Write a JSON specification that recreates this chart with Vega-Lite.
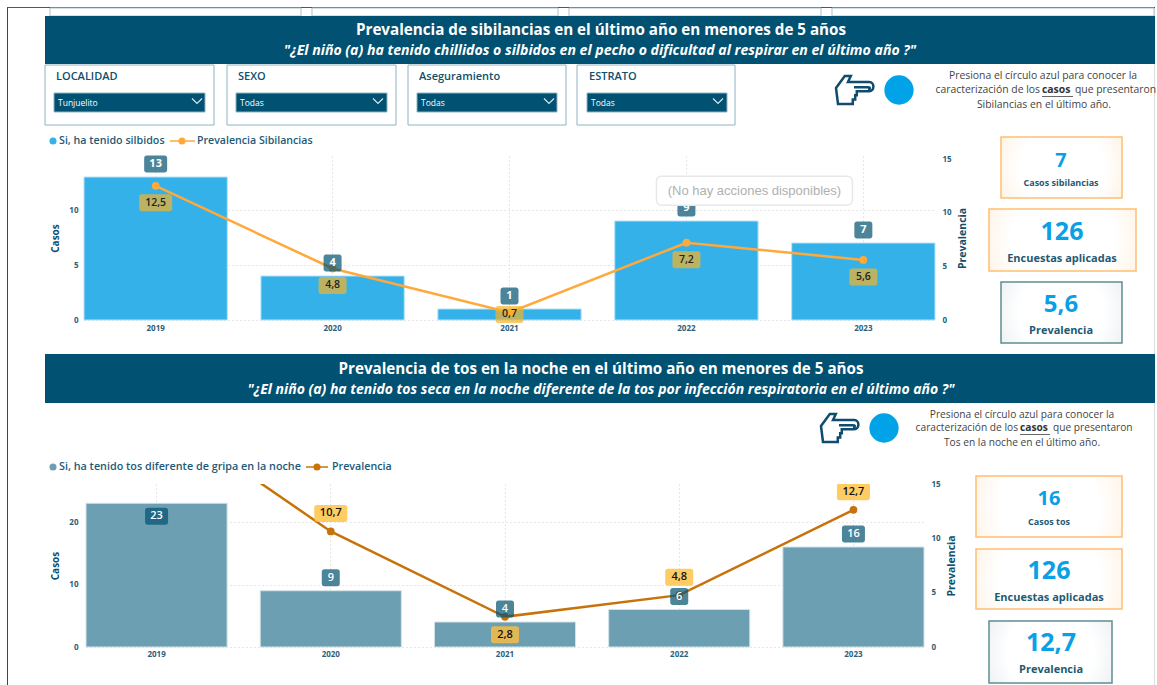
{"$schema":"https://vega.github.io/schema/vega-lite/v6.json","padding":0,"background":"#ffffff","bounds":"flush","align":"each","spacing":0,"columns":2,
"config":{"font":"Open Sans","view":{"stroke":null},"text":{"baseline":"middle"}},
"datasets":{"sib":[{"anio":"2019","casos":13,"prev":12.5,"et":"12,5"},{"anio":"2020","casos":4,"prev":4.8,"et":"4,8"},{"anio":"2021","casos":1,"prev":0.7,"et":"0,7"},{"anio":"2022","casos":9,"prev":7.2,"et":"7,2"},{"anio":"2023","casos":7,"prev":5.6,"et":"5,6"}],
"tos":[{"anio":"2019","casos":23,"prev":21.8,"et":"21,8"},{"anio":"2020","casos":9,"prev":10.7,"et":"10,7"},{"anio":"2021","casos":4,"prev":2.8,"et":"2,8"},{"anio":"2022","casos":6,"prev":4.8,"et":"4,8"},{"anio":"2023","casos":16,"prev":12.7,"et":"12,7"}]},
"concat":[
{"width":84,"height":155,"data":{"values":[{}]},"layer":[
{"mark":{"type":"rect","fill":"#444444"},"encoding":{"x":{"datum":7,"axis":null,"scale":{"domain":[0,84],"range":[0,84],"nice":false}},"x2":{"datum":8},"y":{"datum":6,"axis":null,"scale":{"domain":[0,155],"range":[0,155],"nice":false}},"y2":{"datum":685}}},
{"mark":{"type":"rect","fill":"#555555"},"encoding":{"x":{"datum":7,"axis":null},"x2":{"datum":1155},"y":{"datum":6,"axis":null},"y2":{"datum":7}}},
{"mark":{"type":"rect","fill":"#dddddd"},"encoding":{"x":{"datum":1154,"axis":null},"x2":{"datum":1155},"y":{"datum":7,"axis":null},"y2":{"datum":685}}},
{"mark":{"type":"rect","fill":"#ffffff","stroke":"#a9c3cf"},"encoding":{"x":{"datum":50,"axis":null},"x2":{"datum":301},"y":{"datum":7,"axis":null},"y2":{"datum":15}}},
{"mark":{"type":"rect","fill":"#ffffff","stroke":"#a9c3cf"},"encoding":{"x":{"datum":312,"axis":null},"x2":{"datum":558},"y":{"datum":7,"axis":null},"y2":{"datum":15}}},
{"mark":{"type":"rect","fill":"#ffffff","stroke":"#a9c3cf"},"encoding":{"x":{"datum":569,"axis":null},"x2":{"datum":821},"y":{"datum":7,"axis":null},"y2":{"datum":15}}},
{"mark":{"type":"rect","fill":"#ffffff","stroke":"#a9c3cf"},"encoding":{"x":{"datum":832,"axis":null},"x2":{"datum":1154},"y":{"datum":7,"axis":null},"y2":{"datum":15}}},
{"mark":{"type":"rect","fill":"#015172"},"encoding":{"x":{"datum":45,"axis":null},"x2":{"datum":1155},"y":{"datum":15,"axis":null},"y2":{"datum":63}}},
{"mark":{"type":"text","text":"Prevalencia de sibilancias en el último año en menores de 5 años","fill":"#ffffff","fontSize":15.2,"fontWeight":700},"encoding":{"x":{"datum":601,"axis":null},"y":{"datum":29,"axis":null}}},
{"mark":{"type":"text","text":"\"¿El niño (a) ha tenido chillidos o silbidos en el pecho o dificultad al respirar en el último año ?\"","fill":"#ffffff","fontSize":14.1,"fontWeight":700,"fontStyle":"italic"},"encoding":{"x":{"datum":600,"axis":null},"y":{"datum":50,"axis":null}}},
{"mark":{"type":"rect","fill":"#ffffff","stroke":"#8fb3c2"},"encoding":{"x":{"datum":45,"axis":null},"x2":{"datum":214},"y":{"datum":64,"axis":null},"y2":{"datum":124}}},
{"mark":{"type":"rect","fill":"#ffffff","stroke":"#8fb3c2"},"encoding":{"x":{"datum":227,"axis":null},"x2":{"datum":396},"y":{"datum":64,"axis":null},"y2":{"datum":124}}},
{"mark":{"type":"rect","fill":"#ffffff","stroke":"#8fb3c2"},"encoding":{"x":{"datum":408,"axis":null},"x2":{"datum":566},"y":{"datum":64,"axis":null},"y2":{"datum":124}}},
{"mark":{"type":"rect","fill":"#ffffff","stroke":"#8fb3c2"},"encoding":{"x":{"datum":577,"axis":null},"x2":{"datum":735},"y":{"datum":64,"axis":null},"y2":{"datum":124}}},
{"mark":{"type":"rect","fill":"#015172","stroke":"#8fb3c2"},"encoding":{"x":{"datum":54,"axis":null},"x2":{"datum":205},"y":{"datum":92,"axis":null},"y2":{"datum":111}}},
{"mark":{"type":"rect","fill":"#015172","stroke":"#8fb3c2"},"encoding":{"x":{"datum":236,"axis":null},"x2":{"datum":387},"y":{"datum":92,"axis":null},"y2":{"datum":111}}},
{"mark":{"type":"rect","fill":"#015172","stroke":"#8fb3c2"},"encoding":{"x":{"datum":417,"axis":null},"x2":{"datum":557},"y":{"datum":92,"axis":null},"y2":{"datum":111}}},
{"mark":{"type":"rect","fill":"#015172","stroke":"#8fb3c2"},"encoding":{"x":{"datum":587,"axis":null},"x2":{"datum":727},"y":{"datum":92,"axis":null},"y2":{"datum":111}}},
{"mark":{"type":"text","text":"LOCALIDAD","align":"left","fill":"#0f4f6d","fontSize":11,"fontWeight":600},"encoding":{"x":{"datum":56,"axis":null},"y":{"datum":76,"axis":null}}},
{"mark":{"type":"text","text":"SEXO","align":"left","fill":"#0f4f6d","fontSize":11,"fontWeight":600},"encoding":{"x":{"datum":238,"axis":null},"y":{"datum":76,"axis":null}}},
{"mark":{"type":"text","text":"Aseguramiento","align":"left","fill":"#0f4f6d","fontSize":11,"fontWeight":600},"encoding":{"x":{"datum":419,"axis":null},"y":{"datum":76,"axis":null}}},
{"mark":{"type":"text","text":"ESTRATO","align":"left","fill":"#0f4f6d","fontSize":11,"fontWeight":600},"encoding":{"x":{"datum":589,"axis":null},"y":{"datum":76,"axis":null}}},
{"mark":{"type":"text","text":"Tunjuelito","align":"left","fill":"#ffffff","fontSize":8.5},"encoding":{"x":{"datum":58,"axis":null},"y":{"datum":102,"axis":null}}},
{"mark":{"type":"text","text":"Todas","align":"left","fill":"#ffffff","fontSize":8.5},"encoding":{"x":{"datum":240,"axis":null},"y":{"datum":102,"axis":null}}},
{"mark":{"type":"text","text":"Todas","align":"left","fill":"#ffffff","fontSize":8.5},"encoding":{"x":{"datum":421,"axis":null},"y":{"datum":102,"axis":null}}},
{"mark":{"type":"text","text":"Todas","align":"left","fill":"#ffffff","fontSize":8.5},"encoding":{"x":{"datum":591,"axis":null},"y":{"datum":102,"axis":null}}},
{"mark":{"type":"point","shape":"M-.5,-.25L0,.25L.5,-.25","size":400,"stroke":"#d8e6ec","strokeWidth":1.2,"opacity":1},"encoding":{"x":{"datum":197,"axis":null},"y":{"datum":100,"axis":null}}},
{"mark":{"type":"point","shape":"M-.5,-.25L0,.25L.5,-.25","size":400,"stroke":"#d8e6ec","strokeWidth":1.2,"opacity":1},"encoding":{"x":{"datum":378,"axis":null},"y":{"datum":100,"axis":null}}},
{"mark":{"type":"point","shape":"M-.5,-.25L0,.25L.5,-.25","size":400,"stroke":"#d8e6ec","strokeWidth":1.2,"opacity":1},"encoding":{"x":{"datum":549,"axis":null},"y":{"datum":100,"axis":null}}},
{"mark":{"type":"point","shape":"M-.5,-.25L0,.25L.5,-.25","size":400,"stroke":"#d8e6ec","strokeWidth":1.2,"opacity":1},"encoding":{"x":{"datum":718,"axis":null},"y":{"datum":100,"axis":null}}},
{"mark":{"type":"point","shape":"M-.5,-.05L-.28,-.35L-.13,-.35L-.2,-.2L.33,-.2C.47,-.2 .47,.03 .33,.03L.02,.03L.02,.13L-.02,.13L-.02,.24L-.08,.24L-.08,.35L-.45,.35ZM-.05,-.07L.3,-.07C.36,-.07 .36,-.02 .3,-.02","size":6400,"stroke":"#0f4c6e","strokeWidth":2.5,"opacity":1},"encoding":{"x":{"datum":856,"axis":null},"y":{"datum":89,"axis":null}}},
{"mark":{"type":"point","shape":"circle","filled":true,"size":860,"fill":"#00a3e8","opacity":1},"encoding":{"x":{"datum":899,"axis":null},"y":{"datum":89,"axis":null}}},
{"mark":{"type":"text","text":"Presiona el círculo azul para conocer la","fill":"#444444","fontSize":10.4},"encoding":{"x":{"datum":1043,"axis":null},"y":{"datum":75,"axis":null}}},
{"mark":{"type":"text","text":"caracterización de los","align":"right","fill":"#444444","fontSize":10.4},"encoding":{"x":{"datum":1040,"axis":null},"y":{"datum":89,"axis":null}}},
{"mark":{"type":"text","text":"casos","align":"left","fill":"#333333","fontSize":10.4,"fontWeight":700},"encoding":{"x":{"datum":1042,"axis":null},"y":{"datum":89,"axis":null}}},
{"mark":{"type":"rect","fill":"#444444"},"encoding":{"x":{"datum":1042,"axis":null},"x2":{"datum":1073},"y":{"datum":95,"axis":null},"y2":{"datum":95.8}}},
{"mark":{"type":"text","text":"que presentaron","align":"left","fill":"#444444","fontSize":10.4},"encoding":{"x":{"datum":1075,"axis":null},"y":{"datum":89,"axis":null}}},
{"mark":{"type":"text","text":"Sibilancias en el último año.","fill":"#444444","fontSize":10.4},"encoding":{"x":{"datum":1044,"axis":null},"y":{"datum":104,"axis":null}}},
{"mark":{"type":"point","shape":"circle","filled":true,"size":50,"fill":"#35b1ea","opacity":1},"encoding":{"x":{"datum":53,"axis":null},"y":{"datum":140,"axis":null}}},
{"mark":{"type":"text","text":"Si, ha tenido silbidos","align":"left","fill":"#1d5a78","fontSize":10.7,"fontWeight":600},"encoding":{"x":{"datum":59,"axis":null},"y":{"datum":140,"axis":null}}},
{"mark":{"type":"rule","stroke":"#ffa93b","strokeWidth":1.5},"encoding":{"x":{"datum":170,"axis":null},"x2":{"datum":195},"y":{"datum":140,"axis":null}}},
{"mark":{"type":"point","shape":"circle","filled":true,"size":50,"fill":"#ffa93b","opacity":1},"encoding":{"x":{"datum":182,"axis":null},"y":{"datum":140,"axis":null}}},
{"mark":{"type":"text","text":"Prevalencia Sibilancias","align":"left","fill":"#1d5a78","fontSize":10.6,"fontWeight":600},"encoding":{"x":{"datum":197,"axis":null},"y":{"datum":140,"axis":null}}},
{"mark":{"type":"rect","stroke":"#ffbe73","strokeWidth":1.5,"fill":{"gradient":"radial","x1":0.5,"y1":0.5,"x2":0.5,"y2":0.5,"r1":0.35,"r2":0.75,"stops":[{"offset":0,"color":"#ffffff"},{"offset":1,"color":"#ffe9cf"}]}},"encoding":{"x":{"datum":1001,"axis":null},"x2":{"datum":1122},"y":{"datum":136,"axis":null},"y2":{"datum":197}}},
{"mark":{"type":"text","text":"7","fill":"#0aa0e6","fontSize":20,"fontWeight":700},"encoding":{"x":{"datum":1061,"axis":null},"y":{"datum":160,"axis":null}}},
{"mark":{"type":"text","text":"Casos sibilancias","fill":"#1f5a73","fontSize":9,"fontWeight":700},"encoding":{"x":{"datum":1061,"axis":null},"y":{"datum":182,"axis":null}}},
{"mark":{"type":"rect","stroke":"#ffbe73","strokeWidth":1.5,"fill":{"gradient":"radial","x1":0.5,"y1":0.5,"x2":0.5,"y2":0.5,"r1":0.35,"r2":0.75,"stops":[{"offset":0,"color":"#ffffff"},{"offset":1,"color":"#ffe9cf"}]}},"encoding":{"x":{"datum":989,"axis":null},"x2":{"datum":1136,"axis":null},"y":{"datum":208,"axis":null},"y2":{"datum":270}}},
{"mark":{"type":"text","text":"126","fill":"#0aa0e6","fontSize":25,"fontWeight":700},"encoding":{"x":{"datum":1062,"axis":null},"y":{"datum":231,"axis":null}}},
{"mark":{"type":"text","text":"Encuestas aplicadas","fill":"#1f5a73","fontSize":11,"fontWeight":700},"encoding":{"x":{"datum":1062,"axis":null},"y":{"datum":258,"axis":null}}},
{"mark":{"type":"rect","stroke":"#5f8f90","strokeWidth":1.5,"fill":{"gradient":"radial","x1":0.5,"y1":0.5,"x2":0.5,"y2":0.5,"r1":0.35,"r2":0.75,"stops":[{"offset":0,"color":"#ffffff"},{"offset":1,"color":"#dfe5ea"}]}},"encoding":{"x":{"datum":1001,"axis":null},"x2":{"datum":1122},"y":{"datum":281,"axis":null},"y2":{"datum":342}}},
{"mark":{"type":"text","text":"5,6","fill":"#0aa0e6","fontSize":24,"fontWeight":700},"encoding":{"x":{"datum":1061,"axis":null},"y":{"datum":304,"axis":null}}},
{"mark":{"type":"text","text":"Prevalencia","fill":"#1f5a73","fontSize":11,"fontWeight":700},"encoding":{"x":{"datum":1061,"axis":null},"y":{"datum":330,"axis":null}}}
]},
{"width":1,"height":1,"data":{"values":[{}]},"mark":{"type":"text","text":"","fontSize":1},"encoding":{}},
{"width":1,"height":1,"data":{"values":[{}]},"mark":{"type":"text","text":"","fontSize":1},"encoding":{}},
{"width":851,"height":164,"data":{"name":"sib"},"resolve":{"scale":{"y":"independent"},"axis":{"x":"independent"}},"layer":[
{"mark":{"type":"bar","fill":"#35b1ea","stroke":"#b5e2f7","strokeWidth":1},"encoding":{"x":{"field":"anio","type":"nominal","title":null,"scale":{"type":"band","paddingInner":0.19,"paddingOuter":0},"axis":{"labelAngle":0,"labelFontSize":8,"labelFontWeight":700,"labelColor":"#2b6079","labelPadding":4,"ticks":false,"domain":false,"grid":true,"gridDash":[1,3],"gridColor":"#cfcfcf"}},"y":{"field":"casos","type":"quantitative","title":"Casos","scale":{"domain":[0,14.91],"nice":false},"axis":{"values":[0,5,10],"labelFontSize":8,"labelFontWeight":700,"labelColor":"#2b6079","labelPadding":6,"ticks":false,"domain":false,"grid":true,"gridDash":[1,3],"gridColor":"#cfcfcf","titleFontSize":10,"titleFontWeight":700,"titleColor":"#0f4f6d","titlePadding":8}}}},
{"mark":{"type":"line","stroke":"#ffa93b","strokeWidth":2.5},"encoding":{"x":{"field":"anio","type":"nominal","axis":null},"y":{"field":"prev","type":"quantitative","title":"Prevalencia","scale":{"domain":[0,15.28],"nice":false},"axis":{"orient":"right","values":[0,5,10,15],"labelFontSize":8,"labelFontWeight":700,"labelColor":"#2b6079","labelPadding":7,"ticks":false,"domain":false,"grid":false,"titleFontSize":10.5,"titleFontWeight":700,"titleColor":"#0f4f6d","titleAngle":270,"titlePadding":16}}}},
{"mark":{"type":"point","filled":true,"size":60,"fill":"#ffa93b","opacity":1},"encoding":{"x":{"field":"anio","type":"nominal","axis":null},"y":{"field":"prev","type":"quantitative","axis":null,"scale":{"domain":[0,15.28],"nice":false}}}},
{"mark":{"type":"rect","width":{"expr":"datum.prev>=10?33:28"},"height":17,"cornerRadius":2.5,"fill":"#f5b428","opacity":0.7,"yOffset":{"expr":"datum.anio=='2021'?2:17"}},"encoding":{"x":{"field":"anio","type":"nominal","axis":null},"y":{"field":"prev","type":"quantitative","axis":null,"scale":{"domain":[0,15.28],"nice":false}}}},
{"mark":{"type":"text","fill":"#222222","fontSize":10.5,"fontWeight":600,"yOffset":{"expr":"datum.anio=='2021'?2:17"}},"encoding":{"x":{"field":"anio","type":"nominal","axis":null},"y":{"field":"prev","type":"quantitative","axis":null,"scale":{"domain":[0,15.28],"nice":false}},"text":{"field":"et"}}},
{"mark":{"type":"rect","width":{"expr":"datum.casos>=10?23:18"},"height":17,"cornerRadius":2.5,"fill":"#00516f","opacity":0.7,"yOffset":-13},"encoding":{"x":{"field":"anio","type":"nominal","axis":null},"y":{"field":"casos","type":"quantitative","axis":null,"scale":{"domain":[0,14.91],"nice":false}}}},
{"mark":{"type":"text","fill":"#ffffff","fontSize":11,"fontWeight":700,"yOffset":-13},"encoding":{"x":{"field":"anio","type":"nominal","axis":null},"y":{"field":"casos","type":"quantitative","axis":null,"scale":{"domain":[0,14.91],"nice":false}},"text":{"field":"casos"}}},
{"data":{"values":[{}]},"mark":{"type":"rect","width":196,"height":29,"cornerRadius":5,"fill":"#ffffff","stroke":"#e8e8e8","strokeWidth":1.5,"xOffset":68},"encoding":{"x":{"datum":"2022","type":"nominal","axis":null},"y":{"datum":11.75,"type":"quantitative","axis":null,"scale":{"domain":[0,14.91],"nice":false}}}},
{"data":{"values":[{}]},"mark":{"type":"text","text":"(No hay acciones disponibles)","font":"Liberation Sans","fill":"#b0b0b0","fontSize":13,"xOffset":68},"encoding":{"x":{"datum":"2022","type":"nominal","axis":null},"y":{"datum":11.75,"type":"quantitative","axis":null,"scale":{"domain":[0,14.91],"nice":false}}}}
]},
{"width":84,"height":164,"data":{"values":[{}]},"layer":[
{"mark":{"type":"rect","fill":"#015172"},"encoding":{"x":{"datum":45,"axis":null,"scale":{"domain":[0,84],"range":[0,84],"nice":false}},"x2":{"datum":1155},"y":{"datum":353,"axis":null,"scale":{"domain":[319,483],"range":[0,164],"nice":false}},"y2":{"datum":402}}},
{"mark":{"type":"text","text":"Prevalencia de tos en la noche en el último año en menores de 5 años","fill":"#ffffff","fontSize":15.2,"fontWeight":700},"encoding":{"x":{"datum":601,"axis":null},"y":{"datum":368,"axis":null}}},
{"mark":{"type":"text","text":"\"¿El niño (a) ha tenido tos seca en la noche diferente de la tos por infección respiratoria en el último año ?\"","fill":"#ffffff","fontSize":14,"fontWeight":700,"fontStyle":"italic"},"encoding":{"x":{"datum":601,"axis":null},"y":{"datum":389,"axis":null}}},
{"mark":{"type":"point","shape":"M-.5,-.05L-.28,-.35L-.13,-.35L-.2,-.2L.33,-.2C.47,-.2 .47,.03 .33,.03L.02,.03L.02,.13L-.02,.13L-.02,.24L-.08,.24L-.08,.35L-.45,.35ZM-.05,-.07L.3,-.07C.36,-.07 .36,-.02 .3,-.02","size":6400,"stroke":"#0f4c6e","strokeWidth":2.5,"opacity":1},"encoding":{"x":{"datum":841,"axis":null},"y":{"datum":427,"axis":null}}},
{"mark":{"type":"point","shape":"circle","filled":true,"size":860,"fill":"#00a3e8","opacity":1},"encoding":{"x":{"datum":884,"axis":null},"y":{"datum":427,"axis":null}}},
{"mark":{"type":"text","text":"Presiona el círculo azul para conocer la","fill":"#444444","fontSize":10.2},"encoding":{"x":{"datum":1022,"axis":null},"y":{"datum":414,"axis":null}}},
{"mark":{"type":"text","text":"caracterización de los","align":"right","fill":"#444444","fontSize":10.2},"encoding":{"x":{"datum":1018,"axis":null},"y":{"datum":427,"axis":null}}},
{"mark":{"type":"text","text":"casos","align":"left","fill":"#333333","fontSize":10.2,"fontWeight":700},"encoding":{"x":{"datum":1020,"axis":null},"y":{"datum":427,"axis":null}}},
{"mark":{"type":"rect","fill":"#444444"},"encoding":{"x":{"datum":1020,"axis":null},"x2":{"datum":1050},"y":{"datum":433,"axis":null},"y2":{"datum":433.8}}},
{"mark":{"type":"text","text":"que presentaron","align":"left","fill":"#444444","fontSize":10.2},"encoding":{"x":{"datum":1053,"axis":null},"y":{"datum":427,"axis":null}}},
{"mark":{"type":"text","text":"Tos en la noche en el último año.","fill":"#444444","fontSize":10.2},"encoding":{"x":{"datum":1022,"axis":null},"y":{"datum":442,"axis":null}}},
{"mark":{"type":"point","shape":"circle","filled":true,"size":50,"fill":"#6d9fb2","opacity":1},"encoding":{"x":{"datum":53,"axis":null},"y":{"datum":466,"axis":null}}},
{"mark":{"type":"text","text":"Si, ha tenido tos diferente de gripa en la noche","align":"left","fill":"#1d5a78","fontSize":10.8,"fontWeight":600},"encoding":{"x":{"datum":59,"axis":null},"y":{"datum":466,"axis":null}}},
{"mark":{"type":"rule","stroke":"#c8720a","strokeWidth":1.5},"encoding":{"x":{"datum":306,"axis":null},"x2":{"datum":328},"y":{"datum":466,"axis":null}}},
{"mark":{"type":"point","shape":"circle","filled":true,"size":50,"fill":"#c8720a","opacity":1},"encoding":{"x":{"datum":317,"axis":null},"y":{"datum":466,"axis":null}}},
{"mark":{"type":"text","text":"Prevalencia","align":"left","fill":"#1d5a78","fontSize":10.7,"fontWeight":600},"encoding":{"x":{"datum":332,"axis":null},"y":{"datum":466,"axis":null}}},
{"mark":{"type":"rect","stroke":"#ffbe73","strokeWidth":1.5,"fill":{"gradient":"radial","x1":0.5,"y1":0.5,"x2":0.5,"y2":0.5,"r1":0.35,"r2":0.75,"stops":[{"offset":0,"color":"#ffffff"},{"offset":1,"color":"#ffe9cf"}]}},"encoding":{"x":{"datum":976,"axis":null},"x2":{"datum":1122},"y":{"datum":475,"axis":null},"y2":{"datum":536}}},
{"mark":{"type":"text","text":"16","fill":"#0aa0e6","fontSize":20,"fontWeight":700},"encoding":{"x":{"datum":1049,"axis":null},"y":{"datum":498,"axis":null}}},
{"mark":{"type":"text","text":"Casos tos","fill":"#1f5a73","fontSize":9,"fontWeight":700},"encoding":{"x":{"datum":1049,"axis":null},"y":{"datum":521,"axis":null}}},
{"mark":{"type":"rect","stroke":"#ffbe73","strokeWidth":1.5,"fill":{"gradient":"radial","x1":0.5,"y1":0.5,"x2":0.5,"y2":0.5,"r1":0.35,"r2":0.75,"stops":[{"offset":0,"color":"#ffffff"},{"offset":1,"color":"#ffe9cf"}]}},"encoding":{"x":{"datum":976,"axis":null},"x2":{"datum":1122},"y":{"datum":548,"axis":null},"y2":{"datum":608}}},
{"mark":{"type":"text","text":"126","fill":"#0aa0e6","fontSize":25,"fontWeight":700},"encoding":{"x":{"datum":1049,"axis":null},"y":{"datum":570,"axis":null}}},
{"mark":{"type":"text","text":"Encuestas aplicadas","fill":"#1f5a73","fontSize":11,"fontWeight":700},"encoding":{"x":{"datum":1049,"axis":null},"y":{"datum":597,"axis":null}}},
{"mark":{"type":"rect","stroke":"#5f8f90","strokeWidth":1.5,"fill":{"gradient":"radial","x1":0.5,"y1":0.5,"x2":0.5,"y2":0.5,"r1":0.35,"r2":0.75,"stops":[{"offset":0,"color":"#ffffff"},{"offset":1,"color":"#dfe5ea"}]}},"encoding":{"x":{"datum":989,"axis":null},"x2":{"datum":1112},"y":{"datum":620,"axis":null},"y2":{"datum":682}}},
{"mark":{"type":"text","text":"12,7","fill":"#0aa0e6","fontSize":25,"fontWeight":700},"encoding":{"x":{"datum":1051,"axis":null},"y":{"datum":642,"axis":null}}},
{"mark":{"type":"text","text":"Prevalencia","fill":"#1f5a73","fontSize":11,"fontWeight":700},"encoding":{"x":{"datum":1051,"axis":null},"y":{"datum":669,"axis":null}}}
]},
{"width":1,"height":1,"data":{"values":[{}]},"mark":{"type":"text","text":"","fontSize":1},"encoding":{}},
{"width":1,"height":1,"data":{"values":[{}]},"mark":{"type":"text","text":"","fontSize":1},"encoding":{}},
{"width":840,"height":163,"data":{"name":"tos"},"resolve":{"scale":{"y":"independent"},"axis":{"x":"independent"}},"layer":[
{"mark":{"type":"bar","fill":"#6d9fb2","stroke":"#d3e2e8","strokeWidth":1},"encoding":{"x":{"field":"anio","type":"nominal","title":null,"scale":{"type":"band","paddingInner":0.19,"paddingOuter":0,"range":[2,840]},"axis":{"labelAngle":0,"labelFontSize":8,"labelFontWeight":700,"labelColor":"#2b6079","labelPadding":3,"ticks":false,"domain":false,"grid":true,"gridDash":[1,3],"gridColor":"#cfcfcf"}},"y":{"field":"casos","type":"quantitative","title":"Casos","scale":{"domain":[0,26.08],"nice":false},"axis":{"values":[0,10,20],"labelFontSize":8,"labelFontWeight":700,"labelColor":"#2b6079","labelPadding":6,"ticks":false,"domain":false,"grid":true,"gridDash":[1,3],"gridColor":"#cfcfcf","titleFontSize":10,"titleFontWeight":700,"titleColor":"#0f4f6d","titlePadding":8}}}},
{"mark":{"type":"line","stroke":"#c8720a","strokeWidth":2.5,"clip":true},"encoding":{"x":{"field":"anio","type":"nominal","axis":null},"y":{"field":"prev","type":"quantitative","title":"Prevalencia","scale":{"domain":[0,15.09],"nice":false},"axis":{"orient":"right","values":[0,5,10,15],"labelFontSize":8,"labelFontWeight":700,"labelColor":"#2b6079","labelPadding":7,"ticks":false,"domain":false,"grid":false,"titleFontSize":10.5,"titleFontWeight":700,"titleColor":"#0f4f6d","titleAngle":270,"titlePadding":16}}}},
{"mark":{"type":"point","filled":true,"size":60,"fill":"#c8720a","opacity":1,"clip":true},"encoding":{"x":{"field":"anio","type":"nominal","axis":null},"y":{"field":"prev","type":"quantitative","axis":null,"scale":{"domain":[0,15.09],"nice":false}}}},
{"mark":{"type":"rect","width":{"expr":"datum.prev>=10?33:28"},"height":17,"cornerRadius":2.5,"fill":"#ffbe3c","opacity":0.8,"clip":true,"yOffset":{"expr":"datum.anio=='2021'?18:-18"}},"encoding":{"x":{"field":"anio","type":"nominal","axis":null},"y":{"field":"prev","type":"quantitative","axis":null,"scale":{"domain":[0,15.09],"nice":false}}}},
{"mark":{"type":"text","fill":"#111111","fontSize":11,"fontWeight":600,"clip":true,"yOffset":{"expr":"datum.anio=='2021'?18:-18"}},"encoding":{"x":{"field":"anio","type":"nominal","axis":null},"y":{"field":"prev","type":"quantitative","axis":null,"scale":{"domain":[0,15.09],"nice":false}},"text":{"field":"et"}}},
{"mark":{"type":"rect","width":{"expr":"datum.casos>=10?23:18"},"height":17,"cornerRadius":2.5,"fill":"#00516f","opacity":0.7,"yOffset":{"expr":"datum.casos==23?13:-13"}},"encoding":{"x":{"field":"anio","type":"nominal","axis":null},"y":{"field":"casos","type":"quantitative","axis":null,"scale":{"domain":[0,26.08],"nice":false}}}},
{"mark":{"type":"text","fill":"#ffffff","fontSize":11,"fontWeight":600,"yOffset":{"expr":"datum.casos==23?13:-13"}},"encoding":{"x":{"field":"anio","type":"nominal","axis":null},"y":{"field":"casos","type":"quantitative","axis":null,"scale":{"domain":[0,26.08],"nice":false}},"text":{"field":"casos"}}}
]}
]}
